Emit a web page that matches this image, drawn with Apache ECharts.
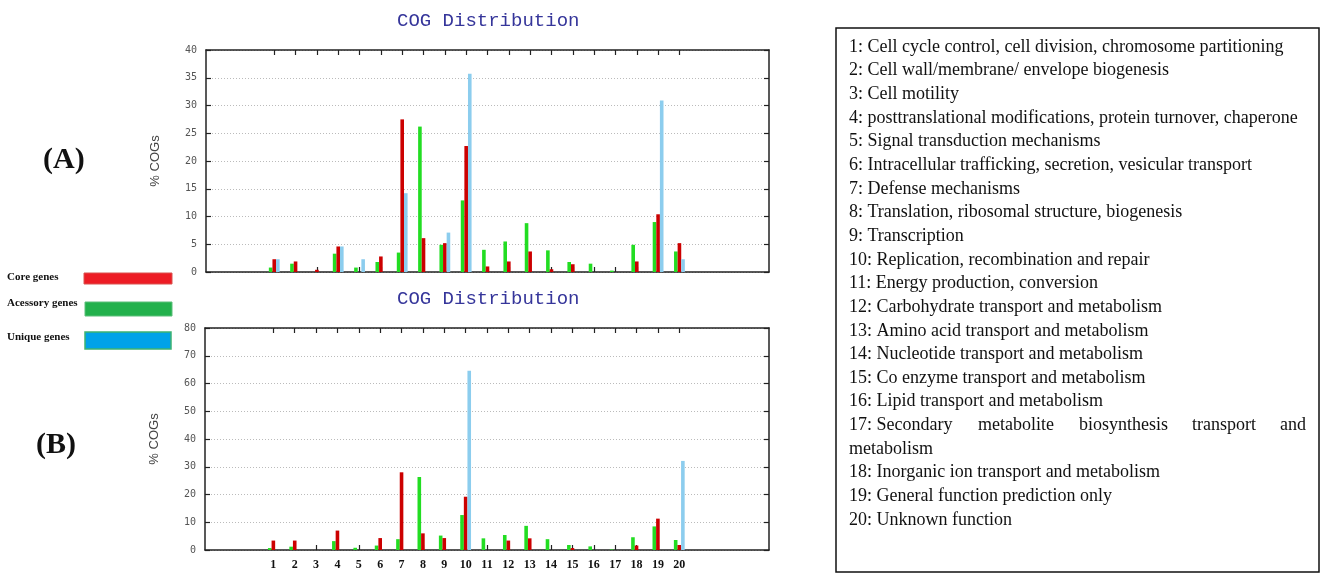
<!DOCTYPE html>
<html>
<head>
<meta charset="utf-8">
<script src="https://cdn.jsdelivr.net/npm/echarts@6.0.0/dist/echarts.min.js"></script>
<style>
  html, body { margin: 0; padding: 0; background: #fff; }
  #chart { width: 1325px; height: 581px; }
</style>
</head>
<body>
<div id="chart"></div>
<script>
// COG categories 1..20
var cogIds = [1, 2, 3, 4, 5, 6, 7, 8, 9, 10, 11, 12, 13, 14, 15, 16, 17, 18, 19, 20];

// (A) % COGs
var accessoryA = [0.8, 1.5, 0, 3.3, 0.8, 1.8, 3.5, 26.2, 4.9, 12.9, 4.0, 5.5, 8.8, 3.9, 1.8, 1.5, 0.25, 4.9, 9.0, 3.7];
var coreA      = [2.3, 1.9, 0.4, 4.6, 0, 2.8, 27.5, 6.1, 5.2, 22.7, 1.0, 1.9, 3.7, 0.5, 1.4, 0, 0, 1.9, 10.4, 5.2];
var uniqueA    = [2.3, 0, 0, 4.6, 2.3, 0, 14.2, 0, 7.1, 35.7, 0, 0, 0, 0, 0, 0, 0, 0, 30.9, 2.3];

// (B) % COGs
var accessoryB = [0.7, 1.2, 0, 3.2, 0.8, 1.6, 3.9, 26.3, 5.2, 12.6, 4.2, 5.4, 8.7, 3.9, 1.8, 1.3, 0.2, 4.6, 8.5, 3.6];
var coreB      = [3.4, 3.4, 0, 7.0, 0, 4.3, 28.0, 6.0, 4.3, 19.2, 0, 3.4, 4.2, 0, 0.7, 0, 0, 1.6, 11.3, 1.8];
var uniqueB    = [0, 0, 0, 0, 0, 0, 0, 0, 0, 64.6, 0, 0, 0, 0, 0, 0, 0, 0, 0, 32.1];

var yTicksA = [0, 5, 10, 15, 20, 25, 30, 35, 40];
var yTicksB = [0, 10, 20, 30, 40, 50, 60, 70, 80];

var cogNames = [
    '1: Cell cycle control, cell division, chromosome partitioning',
    '2: Cell wall/membrane/ envelope biogenesis',
    '3: Cell motility',
    '4: posttranslational modifications, protein turnover, chaperone',
    '5: Signal transduction mechanisms',
    '6: Intracellular trafficking, secretion, vesicular transport',
    '7: Defense mechanisms',
    '8: Translation, ribosomal structure, biogenesis',
    '9: Transcription',
    '10: Replication, recombination and repair',
    '11: Energy production, conversion',
    '12: Carbohydrate transport and metabolism',
    '13: Amino acid transport and metabolism',
    '14: Nucleotide transport and metabolism',
    '15: Co enzyme transport and metabolism',
    '16: Lipid transport and metabolism',
    '17: Secondary metabolite biosynthesis transport and metabolism',
    '18: Inorganic ion transport and metabolism',
    '19: General function prediction only',
    '20: Unknown function'
];

var COLORS = { accessory: '#22dd22', core: '#cc0000', unique: '#8ccdee' };

var chart = echarts.init(document.getElementById('chart'));

var frameLine = { show: true, onZero: false, lineStyle: { color: '#222', width: 1.5 } };
var tickIn = { show: true, inside: true, length: 5, lineStyle: { color: '#222', width: 1.2 } };

function pairs(values) {
    return cogIds.map(function (c, i) { return [c, values[i]]; });
}

function xAxes(gridIndex, showLabels) {
    return [{
        type: 'value',
        gridIndex: gridIndex,
        min: -2.2,
        max: 24.2,
        axisLine: frameLine,
        axisTick: Object.assign({ customValues: cogIds }, tickIn),
        axisLabel: {
            show: showLabels,
            customValues: cogIds,
            margin: 9,
            fontFamily: 'Liberation Serif',
            fontWeight: 'bold',
            fontSize: 12,
            color: '#111'
        },
        splitLine: { show: false }
    }, {
        type: 'value',
        gridIndex: gridIndex,
        position: 'top',
        min: -2.2,
        max: 24.2,
        axisLine: frameLine,
        axisTick: Object.assign({ customValues: cogIds }, tickIn),
        axisLabel: { show: false },
        splitLine: { show: false }
    }];
}

function yAxes(gridIndex, ticks) {
    var step = ticks[1] - ticks[0];
    return [{
        type: 'value',
        gridIndex: gridIndex,
        min: ticks[0],
        max: ticks[ticks.length - 1],
        interval: step,
        name: '% COGs',
        nameLocation: 'middle',
        nameRotate: 90,
        nameGap: 44,
        nameTextStyle: { fontFamily: 'Liberation Sans', fontSize: 13, color: '#444' },
        axisLine: frameLine,
        axisTick: tickIn,
        axisLabel: { fontFamily: 'DejaVu Sans Mono', fontSize: 10, color: '#555', margin: 9 },
        splitLine: { show: true, lineStyle: { color: '#bbb', type: [1, 2], width: 1 } }
    }, {
        type: 'value',
        gridIndex: gridIndex,
        position: 'right',
        min: ticks[0],
        max: ticks[ticks.length - 1],
        interval: step,
        axisLine: frameLine,
        axisTick: tickIn,
        axisLabel: { show: false },
        splitLine: { show: false }
    }];
}

function barSeries(name, values, color, axisOffset) {
    return {
        name: name,
        type: 'bar',
        xAxisIndex: axisOffset,
        yAxisIndex: axisOffset,
        barWidth: 3.6,
        barGap: '0%',
        itemStyle: { color: color },
        data: pairs(values)
    };
}

// legend box on the right, one text per row
var rowY0 = 47, rowStep = 23.65, textX = 849;
var boxFont = { fontFamily: 'Liberation Serif', fontSize: 18, fill: '#111' };
var listTexts = [];
var row = 0;
cogNames.forEach(function (line) {
    if (line.indexOf('17:') === 0) {
        // justified line that wraps
        var words = [['17: Secondary', textX, 'left'], ['metabolite', 978, 'left'], ['biosynthesis', 1079, 'left'],
                     ['transport', 1192, 'left'], ['and', 1306, 'right']];
        words.forEach(function (w) {
            listTexts.push({ type: 'text', x: w[1], y: rowY0 + row * rowStep,
                style: Object.assign({ text: w[0], align: w[2], verticalAlign: 'middle' }, boxFont) });
        });
        row++;
        listTexts.push({ type: 'text', x: textX, y: rowY0 + row * rowStep,
            style: Object.assign({ text: 'metabolism', verticalAlign: 'middle' }, boxFont) });
    } else {
        listTexts.push({ type: 'text', x: textX, y: rowY0 + row * rowStep,
            style: Object.assign({ text: line, verticalAlign: 'middle' }, boxFont) });
    }
    row++;
});

var legendFont = { fontFamily: 'Liberation Serif', fontSize: 11, fontWeight: 'bold', fill: '#111', verticalAlign: 'middle' };

var option = {
    backgroundColor: '#fff',
    animation: false,
    title: [{
        text: 'COG Distribution', left: 392, top: 6,
        textStyle: { fontFamily: 'Liberation Mono', fontSize: 19, fontWeight: 'normal', color: '#35359a' }
    }, {
        text: 'COG Distribution', left: 392, top: 284,
        textStyle: { fontFamily: 'Liberation Mono', fontSize: 19, fontWeight: 'normal', color: '#35359a' }
    }],
    grid: [
        { left: 206, top: 50, width: 563, height: 222 },
        { left: 205, top: 328, width: 564, height: 222 }
    ],
    xAxis: xAxes(0, false).concat(xAxes(1, true)),
    yAxis: yAxes(0, yTicksA).concat(yAxes(1, yTicksB)),
    series: [
        barSeries('Acessory genes', accessoryA, COLORS.accessory, 0),
        barSeries('Core genes', coreA, COLORS.core, 0),
        barSeries('Unique genes', uniqueA, COLORS.unique, 0),
        barSeries('Acessory genes', accessoryB, COLORS.accessory, 2),
        barSeries('Core genes', coreB, COLORS.core, 2),
        barSeries('Unique genes', uniqueB, COLORS.unique, 2)
    ],
    graphic: [
        { type: 'text', x: 43, y: 160, style: { text: '(A)', fontFamily: 'Liberation Serif', fontSize: 30, fontWeight: 'bold', fill: '#111', verticalAlign: 'middle' } },
        { type: 'text', x: 36, y: 445, style: { text: '(B)', fontFamily: 'Liberation Serif', fontSize: 30, fontWeight: 'bold', fill: '#111', verticalAlign: 'middle' } },

        { type: 'text', x: 7, y: 277, style: Object.assign({ text: 'Core genes' }, legendFont) },
        { type: 'rect', shape: { x: 84, y: 273, width: 88, height: 11 }, style: { fill: '#ed1c24', stroke: '#d9534f', lineWidth: 1 } },
        { type: 'text', x: 7, y: 303, style: Object.assign({ text: 'Acessory genes' }, legendFont) },
        { type: 'rect', shape: { x: 85, y: 302, width: 87, height: 14 }, style: { fill: '#22b14c', stroke: '#5cbf7a', lineWidth: 1 } },
        { type: 'text', x: 7, y: 337, style: Object.assign({ text: 'Unique genes' }, legendFont) },
        { type: 'rect', shape: { x: 85, y: 332, width: 86, height: 17 }, style: { fill: '#00a2e8', stroke: '#3cb371', lineWidth: 1.5 } },

        { type: 'rect', shape: { x: 836, y: 28, width: 483, height: 544 }, style: { fill: 'none', stroke: '#111', lineWidth: 1.5 } }
    ].concat(listTexts)
};

chart.setOption(option);
</script>
</body>
</html>
